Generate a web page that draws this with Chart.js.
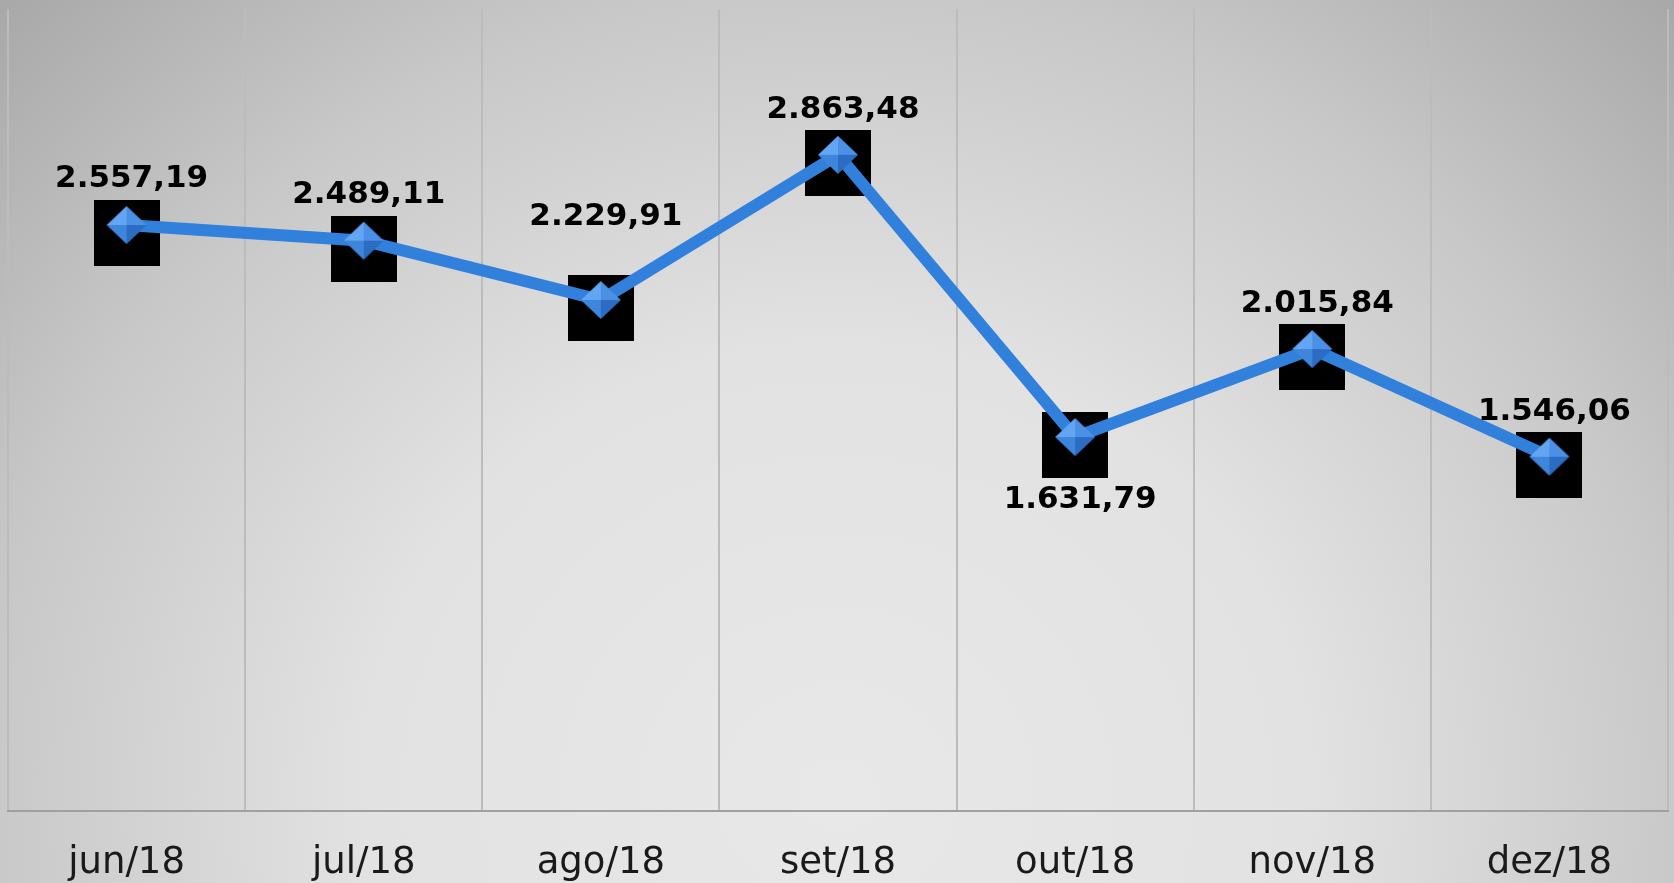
<!DOCTYPE html>
<html>
<head>
<meta charset="utf-8">
<script src="https://cdn.jsdelivr.net/npm/chart.js@4/dist/chart.umd.min.js"></script>
<style>
  html, body { margin: 0; padding: 0; }
  body {
    width: 1674px; height: 883px; overflow: hidden;
    background: radial-gradient(ellipse farthest-corner at 50% 90%, #e8e8e8 0%, #e2e2e2 40%, #c8c8c8 72%, #a8a8a8 100%);
  }
  #wrap { width: 1674px; height: 883px; position: relative; }
</style>
</head>
<body>
<div id="wrap"><canvas id="grafico"></canvas></div>
<script>
// meses (eixo X)
const meses = ['jun/18', 'jul/18', 'ago/18', 'set/18', 'out/18', 'nov/18', 'dez/18'];
// valores da série
const valores = [2557.19, 2489.11, 2229.91, 2863.48, 1631.79, 2015.84, 1546.06];
// deslocamento vertical dos rótulos (acima < 0, abaixo > 0)
const rotuloDy = [-48, -48, -85, -47, 61, -47, -47];

function fmt(v){ // formato brasileiro 2.557,19
    let s = v.toFixed(2).split('.');
    s[0] = s[0].replace(/\B(?=(\d{3})+(?!\d))/g, '.');
    return s[0] + ',' + s[1];
}

function losango(){ // marcador azul em forma de losango
    const c = document.createElement('canvas');
    c.width = 42; c.height = 40;
    const g = c.getContext('2d');
    const cx = 21, cy = 20, rx = 20, ry = 19;
    const faces = [
        ['#62a5f2', [cx, cy - ry], [cx - rx, cy]],
        ['#4b90e4', [cx, cy - ry], [cx + rx, cy]],
        ['#3e86db', [cx - rx, cy], [cx, cy + ry]],
        ['#2c6cc2', [cx + rx, cy], [cx, cy + ry]]
    ];
    faces.forEach(function(f){
        g.fillStyle = f[0];
        g.beginPath();
        g.moveTo(cx, cy);
        g.lineTo(f[1][0], f[1][1]);
        g.lineTo(f[2][0], f[2][1]);
        g.closePath();
        g.fill();
    });
    return c;
}

const quadrados = { // quadrado preto atrás de cada ponto
    id: 'quadrados',
    beforeDatasetsDraw(chart){
        const ctx = chart.ctx;
        const meta = chart.getDatasetMeta(0);
        ctx.save();
        ctx.fillStyle = '#000';
        meta.data.forEach(function(p){
            ctx.fillRect(Math.round(p.x) - 33, Math.round(p.y) - 25, 66, 66);
        });
        ctx.restore();
    }
};

const rotulos = { // rótulos de valores
    id: 'rotulos',
    afterDatasetsDraw(chart){
        const ctx = chart.ctx;
        const meta = chart.getDatasetMeta(0);
        ctx.save();
        ctx.font = 'bold 31px "DejaVu Sans", Verdana, sans-serif';
        ctx.fillStyle = '#000';
        ctx.textAlign = 'center';
        ctx.textBaseline = 'middle';
        meta.data.forEach(function(p, i){
            ctx.fillText(fmt(valores[i]), p.x + 5, p.y + rotuloDy[i] + 2);
        });
        ctx.restore();
    }
};

const config = {
    type: 'line',
    data: {
        labels: meses,
        datasets: [{
            data: valores,
            borderColor: '#3180dc',
            borderWidth: 12,
            tension: 0,
            pointStyle: losango(),
            pointRadius: 20,
            pointHoverRadius: 20,
            clip: false
        }]
    },
    options: {
        responsive: false,
        animation: false,
        layout: { autoPadding: false, padding: { left: 8, right: 6, top: 9, bottom: 0 } },
        plugins: { legend: { display: false }, tooltip: { enabled: false } },
        scales: {
            x: {
                offset: true,
                grid: { offset: true, color: '#bcbcbc', lineWidth: 2, drawTicks: false },
                border: { display: true, color: '#a0a0a0', width: 2 },
                ticks: {
                    color: '#1a1a1a',
                    padding: 30,
                    font: { family: '"DejaVu Sans", Verdana, sans-serif', size: 37 }
                },
                afterFit: function(scale){ scale.height = 72; }
            },
            y: {
                display: false,
                min: 0,
                max: 3500
            }
        }
    },
    plugins: [quadrados, rotulos]
};

const cv = document.getElementById('grafico');
cv.width = 1674; cv.height = 883;
cv.style.width = '1674px'; cv.style.height = '883px';
const grafico = new Chart(cv, config);
</script>
</body>
</html>
